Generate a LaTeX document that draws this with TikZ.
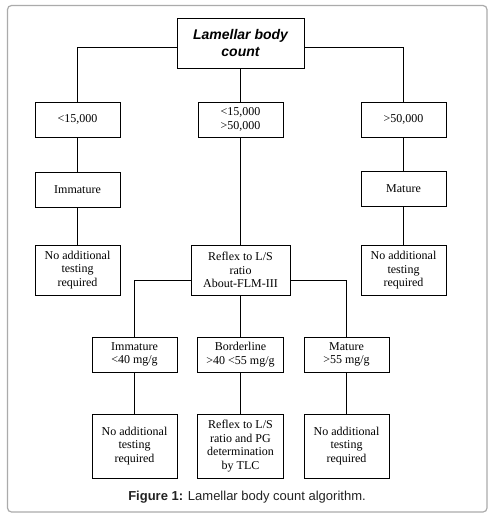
\documentclass[tikz,border=0pt]{standalone}
\usepackage{fontspec}
\setmainfont{Liberation Serif}
\newfontfamily\capfont{Liberation Sans}
\definecolor{frame}{HTML}{ABABAB}
\definecolor{captext}{HTML}{222222}

\begin{document}
\begin{tikzpicture}[x=1pt, y=-1pt,
    cell/.style={draw, line width=0.9pt, align=center, inner sep=0pt,
        minimum width=85pt, minimum height=35pt,
        font=\fontsize{12}{13.5}\selectfont},
    tallcell/.style={cell, minimum height=50pt},
    link/.style={line width=0.9pt}]

\useasboundingbox (0,0) rectangle (497,515);

% Frame round the figure
\draw[frame, line width=1.2pt, rounded corners=4pt] (7.5,5.5) rectangle (487,512);

% Root
\node[tallcell, minimum width=127pt,
    font=\capfont\bfseries\itshape\fontsize{14}{16.5}\selectfont] (lbc) at (240.5,43) {Lamellar body\\count};

% Count ranges
\node[cell] (low) at (77.5,119.5) {<15,000};
\node[cell] (mid) at (240.5,119.5) {<15,000\\>50,000};
\node[cell] (high) at (403.5,119.5) {>50,000};

% Maturity from the count
\node[cell] (imm) at (77.5,189.5) {Immature};
\node[cell] (mat) at (403.5,188.5) {Mature};

\node[tallcell] (nolow) at (77.5,270) {No additional\\testing\\required};
\node[tallcell, minimum width=99pt] (reflex) at (240.5,270) {Reflex to L/S\\ratio\\About-FLM-III};
\node[tallcell] (nohigh) at (403.5,270.5) {No additional\\testing\\required};

% Second split
\node[cell] (immls) at (134.5,354.5) {Immature\\<40 mg/g};
\node[cell, minimum width=86pt] (bord) at (240.5,354.5) {Borderline\\>40 <55 mg/g};
\node[cell] (matls) at (346.5,354.5) {Mature\\>55 mg/g};

\node[cell, minimum height=64pt] (noimm) at (134.5,446) {No additional\\testing\\required};
\node[cell, minimum height=64pt, minimum width=86pt] (pg) at (240.5,446) {Reflex to L/S\\ratio and PG\\determination\\by TLC};
\node[cell, minimum height=64pt] (nomat) at (346.5,446) {No additional\\testing\\required};

% Connectors
\draw[link] ([yshift=-4pt]lbc.west) -| (low.north);
\draw[link] ([yshift=-4pt]lbc.east) -| (high.north);
\draw[link] ([yshift=-10pt]reflex.west) -| (immls.north);
\draw[link] ([yshift=-10pt]reflex.east) -| (matls.north);
\foreach \a/\b in {lbc/mid, mid/reflex, low/imm, imm/nolow, high/mat, mat/nohigh,
    reflex/bord, immls/noimm, bord/pg, matls/nomat}
    \draw[link] (\a) -- (\b);

% Caption
\node[font=\capfont\fontsize{13}{15}\selectfont, text=captext] (cap) at (247,497)
    {\textbf{Figure 1:} Lamellar body count algorithm.};

\end{tikzpicture}
\end{document}
